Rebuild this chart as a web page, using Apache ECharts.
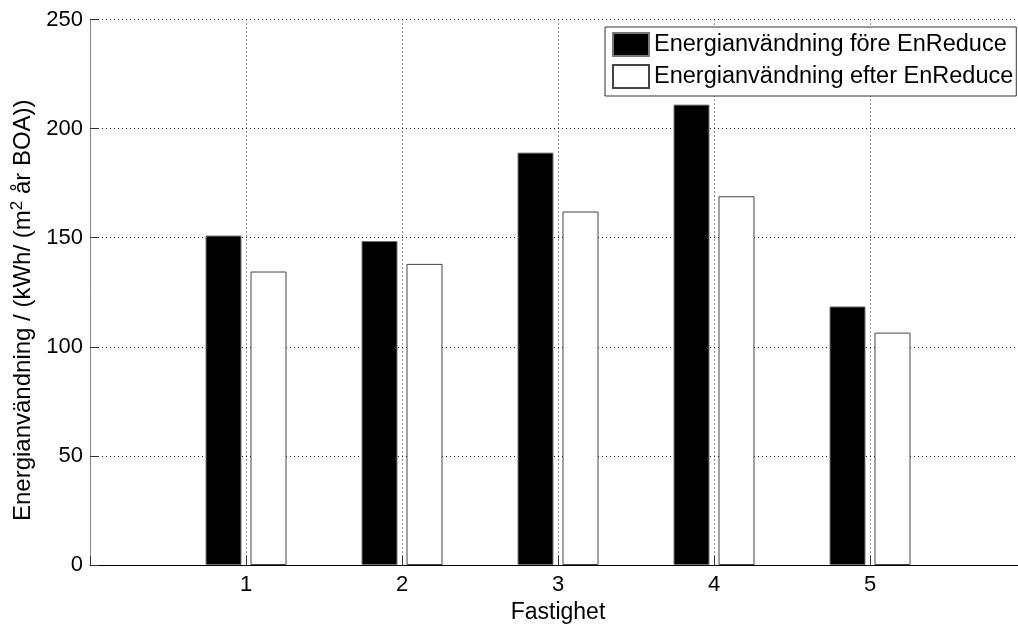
<!DOCTYPE html>
<html>
<head>
<meta charset="utf-8">
<script src="https://cdn.jsdelivr.net/npm/echarts@6/dist/echarts.min.js"></script>
<style>
html,body{margin:0;padding:0;background:#fff;}
#c{width:1018px;height:626px;}
</style>
</head>
<body>
<div id="c"></div>
<script>
const categories = [1, 2, 3, 4, 5];
const foreValues = [151, 148.5, 189, 211, 118.5];
const efterValues = [134.5, 138, 162, 169, 106.5];
const yTicks = [0, 50, 100, 150, 200, 250];
const seriesNames = ['Energianvändning före EnReduce', 'Energianvändning efter EnReduce'];

const FONT = '"Liberation Sans", Arial, Helvetica, sans-serif';
const chart = echarts.init(document.getElementById('c'));
const dotted = { color: '#222', width: 1, type: [1, 3] };

chart.setOption({
  animation: false,
  backgroundColor: '#fff',
  textStyle: { fontFamily: FONT },
  grid: { show: false, left: 90, top: 19.5, bottom: 61, right: -8, containLabel: false, outerBoundsMode: 'none' },
  legend: {
    orient: 'vertical',
    left: 605, top: 27,
    padding: [5, 3, 7, 7],
    itemGap: 7,
    itemWidth: 36, itemHeight: 23,
    borderColor: '#333', borderWidth: 1,
    backgroundColor: '#fff',
    icon: 'rect',
    textStyle: { fontFamily: FONT, fontSize: 23.5, color: '#000' },
    data: seriesNames
  },
  xAxis: {
    type: 'value', min: 0, max: 6, interval: 1,
    name: 'Fastighet', nameLocation: 'middle', nameGap: 35,
    nameTextStyle: { fontFamily: FONT, fontSize: 23, color: '#000' },
    axisLine: { show: true, lineStyle: { color: '#000', width: 1 } },
    axisTick: { show: true, inside: true, length: 9, lineStyle: { color: '#333' } },
    axisLabel: {
      margin: 9, fontFamily: FONT, fontSize: 22, color: '#000',
      formatter: v => (categories.indexOf(v) >= 0 ? String(v) : '')
    },
    splitLine: { show: true, showMinLine: false, showMaxLine: false, lineStyle: dotted }
  },
  yAxis: {
    type: 'value', min: yTicks[0], max: yTicks[yTicks.length - 1], interval: 50,
    name: 'Energianvändning / (kWh/ (m{sup|2} år BOA))',
    nameLocation: 'middle', nameGap: 52,
    nameTextStyle: {
      fontFamily: FONT, fontSize: 24, color: '#000', padding: [0, 36, 0, 0],
      rich: { sup: { fontFamily: FONT, fontSize: 17, color: '#000', verticalAlign: 'top', padding: [0, 0, 12, 0] } }
    },
    axisLine: { show: true, onZero: false, lineStyle: { color: '#888', width: 1 } },
    axisTick: { show: true, inside: true, length: 9, lineStyle: { color: '#333' } },
    axisLabel: { margin: 7, fontFamily: FONT, fontSize: 22, color: '#000' },
    splitLine: { show: true, lineStyle: dotted }
  },
  series: [
    {
      name: seriesNames[0], type: 'bar', barWidth: 36, barGap: '25%',
      itemStyle: { color: '#000', borderColor: '#777', borderWidth: 1 },
      data: categories.map((c, i) => [c, foreValues[i]])
    },
    {
      name: seriesNames[1], type: 'bar', barWidth: 36, barGap: '25%',
      itemStyle: { color: '#fff', borderColor: '#444', borderWidth: 1 },
      data: categories.map((c, i) => [c, efterValues[i]])
    }
  ]
});
</script>
</body>
</html>
